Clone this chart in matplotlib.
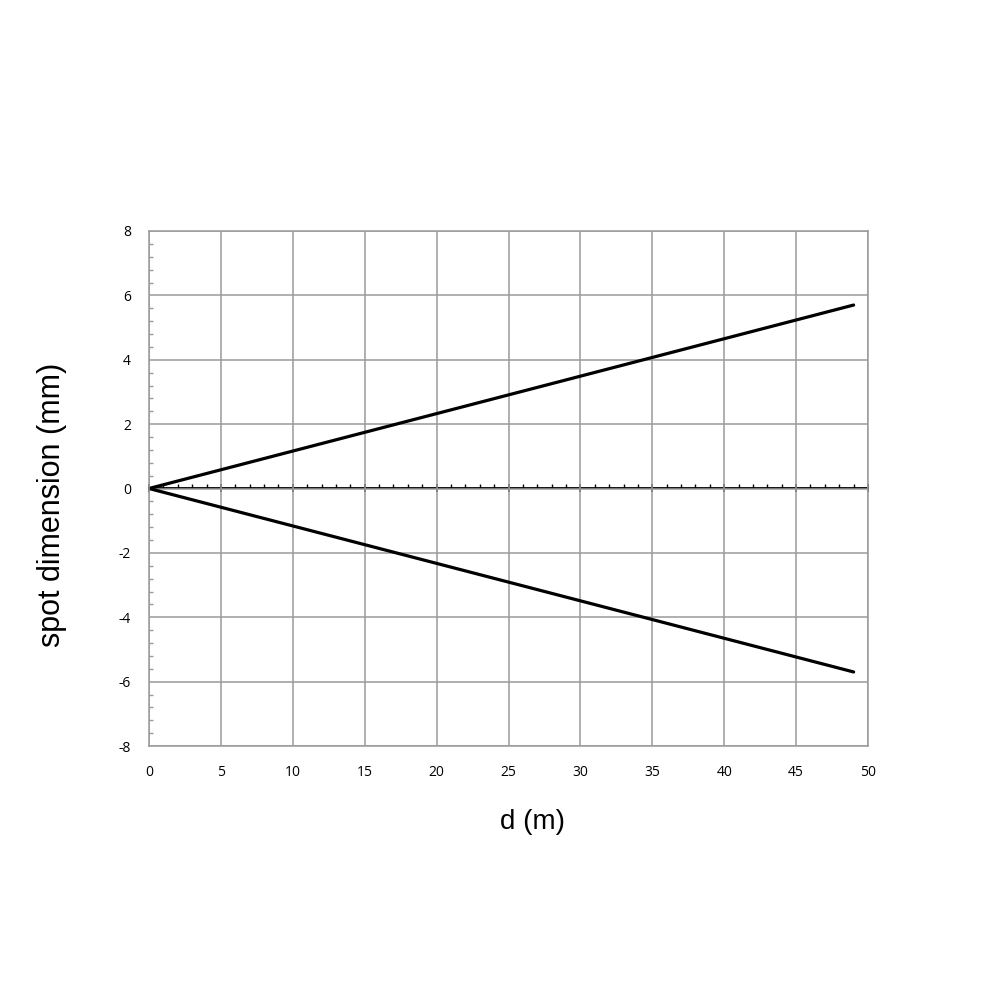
import numpy as np
import matplotlib.pyplot as plt
from matplotlib.ticker import MultipleLocator

plt.rcParams['axes.unicode_minus'] = False

# distance (m) and spot half-size (mm)
d = [0, 49]
spot_upper = [0, 5.7]
spot_lower = [0, -5.7]

x_ticks = [0, 5, 10, 15, 20, 25, 30, 35, 40, 45, 50]
y_ticks = [-8, -6, -4, -2, 0, 2, 4, 6, 8]

fig = plt.figure(figsize=(10, 10), dpi=100)
ax = fig.add_axes([0.149, 0.254, 0.719, 0.515])

grid_c = '#9a9a9a'
ax.set_xlim(0, 50)
ax.set_ylim(-8, 8)
ax.set_xticks(x_ticks)
ax.set_yticks(y_ticks)
ax.yaxis.set_minor_locator(MultipleLocator(0.4))
ax.grid(True, which='major', color=grid_c, linewidth=1.1)
ax.set_axisbelow(True)
for s in ax.spines.values():
    s.set_color(grid_c)
    s.set_linewidth(1.1)

ax.tick_params(axis='x', which='major', length=0, pad=14, labelsize=10)
ax.tick_params(axis='y', which='major', length=0, pad=13, labelsize=10)
ax.tick_params(axis='y', which='minor', direction='in', length=3, color=grid_c, width=1)
for lab in ax.get_xticklabels() + ax.get_yticklabels():
    lab.set_fontfamily('Open Sans')

# axis line through y = 0 with minor ticks pointing up
sec = ax.secondary_xaxis(0.5)
for s in sec.spines.values():
    s.set_color('black')
    s.set_linewidth(1.3)
sec.set_xticks(x_ticks)
sec.set_xticklabels([])
sec.xaxis.set_minor_locator(MultipleLocator(1))
sec.tick_params(which='major', direction='inout', length=6, width=1.1,
                labelbottom=False, labeltop=False)
sec.tick_params(which='minor', direction='out', length=3, width=1)

ax.plot(d, spot_upper, color='black', linewidth=2.3, solid_capstyle='round')
ax.plot(d, spot_lower, color='black', linewidth=2.3, solid_capstyle='round')

ax.set_xlabel('d (m)', fontsize=20, family='Liberation Sans')
ax.xaxis.label.set_va('center')
ax.xaxis.set_label_coords(0.533, -0.148)
ax.set_ylabel('spot dimension (mm)', fontsize=22, family='Liberation Sans')
ax.yaxis.label.set_va('center')
ax.yaxis.set_label_coords(-0.135, 0.468)

fig.savefig('out.png')
